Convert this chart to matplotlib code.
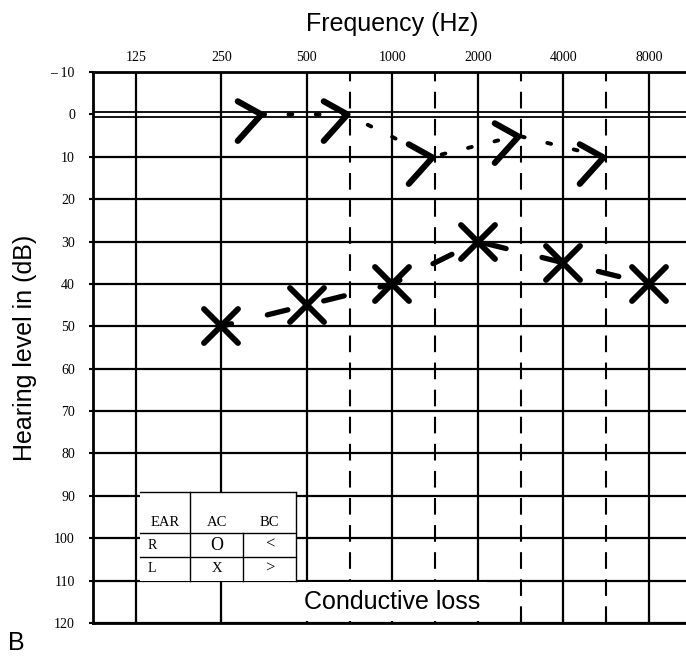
import numpy as np
import matplotlib.pyplot as plt
from matplotlib.markers import MarkerStyle
from matplotlib.path import Path
from matplotlib.patches import Rectangle
from matplotlib.transforms import blended_transform_factory, offset_copy
from matplotlib.ticker import NullFormatter

# audiogram values (left ear)
octave_freqs = [125, 250, 500, 1000, 2000, 4000, 8000]
db_ticks = list(range(-10, 121, 10))

ac_freqs = [250, 500, 1000, 2000, 4000, 8000]
ac_left = [50, 45, 40, 30, 35, 40]
bc_freqs = [250, 500, 1000, 2000, 4000]
bc_left = [0, 0, 10, 5, 10]

legend_rows = [['R', 'O', '<'], ['L', 'X', '>']]

serif = 'Liberation Serif'
sans = 'Liberation Sans'

fig = plt.figure(figsize=(6.86, 6.6), dpi=100)
fig.patch.set_facecolor('white')
ax = fig.add_axes([93/686, 37/660, 598.5/686, 551/660])

ax.set_xscale('log', base=2)
ax.set_xlim(125/np.sqrt(2), 8000*np.sqrt(2))
ax.set_ylim(120, -10)

# dashed inter-octave lines (750, 1500, 3000, 6000) sit halfway between octaves
mid_pos = [np.sqrt(a * b) for a, b in zip(octave_freqs[2:-1], octave_freqs[3:])]

# grid
for f in octave_freqs:
    ax.axvline(f, color='black', lw=1.6, zorder=1)
for f in mid_pos:
    ax.axvline(f, color='black', lw=1.5, ls=(0, (8, 5)), zorder=1)
for d in db_ticks:
    if d == 0:
        ax.axhline(-0.6, color='black', lw=1.3, zorder=1)
        ax.axhline(0.6, color='black', lw=1.3, zorder=1)
    else:
        ax.axhline(d, color='black', lw=1.6, zorder=1)

for s in ax.spines.values():
    s.set_linewidth(2)

# ticks
ax.set_xticks(octave_freqs, labels=[str(f) for f in octave_freqs])
ax.set_xticks(mid_pos, minor=True)
ax.xaxis.set_minor_formatter(NullFormatter())
ax.set_yticks(db_ticks, labels=[str(d).replace('-', '\u2013 ') for d in db_ticks])
ax.tick_params(axis='x', which='both', top=False, bottom=True, labeltop=True,
               labelbottom=False, direction='in', length=5, width=1.5, pad=6)
ax.tick_params(axis='y', length=3, width=1.5, pad=10)
for lab in ax.get_xticklabels() + ax.get_yticklabels():
    lab.set_fontfamily(serif)
    lab.set_fontsize(10)

ax.xaxis.set_label_position('top')
ax.set_xlabel('Frequency (Hz)', fontfamily=sans, fontsize=18, labelpad=14)
ax.set_ylabel('Hearing level in (dB)', fontfamily=sans, fontsize=18, labelpad=10)

# air conduction, left ear
ax.plot(ac_freqs, ac_left, color='black', lw=3.8, ls=(2, (4, 7)),
        dash_capstyle='round', zorder=5)
xm = MarkerStyle('x', capstyle='round')
ax.plot(ac_freqs, ac_left, ls='none', marker=xm, ms=25, mew=4.2,
        color='black', zorder=6)

# bone conduction, left ear (symbol drawn right of the frequency line)
shift = offset_copy(ax.transData, fig=fig, x=40, y=0, units='dots')
arrow = Path([(-0.9, 0.5), (0, 0), (-0.9, -1.0)],
             [Path.MOVETO, Path.LINETO, Path.LINETO])
gm = MarkerStyle(arrow, capstyle='round', joinstyle='round')
ax.plot(bc_freqs, bc_left, color='black', lw=2.8, ls=(0, (1, 6)),
        dash_capstyle='round', transform=shift, zorder=5)
ax.plot(bc_freqs, bc_left, ls='none', marker=gm, ms=38, mew=4.4,
        mfc='none', mec='black', transform=shift, zorder=6)

# symbol key
blend = blended_transform_factory(ax.transAxes, ax.transData)
x0, x1, x2, x3 = 0.0785, 0.162, 0.251, 0.339
y0, y1, y2, y3 = 89.2, 98.8, 104.4, 110
ax.add_patch(Rectangle((x0, y0), x3 - x0, y3 - y0, transform=blend,
                       facecolor='white', edgecolor='none', zorder=3))
kw = dict(color='black', lw=1.0, transform=blend, zorder=4)
ax.plot([x0, x3], [y0, y0], **kw)
ax.plot([x0, x3], [y1, y1], **kw)
ax.plot([x0, x3], [y2, y2], **kw)
ax.plot([x1, x1], [y0, y3], **kw)
ax.plot([x2, x2], [y1, y3], **kw)
ax.plot([x3, x3], [y0, y3], **kw)
tkw = dict(transform=blend, fontfamily=serif, va='center', zorder=4)
ax.text((x0 + x1) / 2, 96.4, 'EAR', ha='center', fontsize=10.5, **tkw)
ax.text((x1 + x2) / 2, 96.4, 'AC', ha='center', fontsize=10.5, **tkw)
ax.text((x2 + x3) / 2, 96.4, 'BC', ha='center', fontsize=10.5, **tkw)
for row, yy in zip(legend_rows, [(y1 + y2) / 2, (y2 + y3) / 2]):
    ax.text(x0 + 0.012, yy, row[0], ha='left', fontsize=10, **tkw)
    ax.text((x1 + x2) / 2, yy, row[1], ha='center',
            fontsize=13 if row[1] == 'O' else 10.5, **tkw)
    ax.text((x2 + x3) / 2, yy, row[2], ha='center', fontsize=12, **tkw)

# caption in the bottom row
ax.add_patch(Rectangle((465, 110.4), 2150 - 465, 9.2, facecolor='white',
                       edgecolor='none', zorder=2))
ax.text(1000, 115, 'Conductive loss', ha='center', va='center',
        fontfamily=sans, fontsize=18, zorder=3)

fig.text(0.012, 0.008, 'B', fontfamily=sans, fontsize=18, ha='left', va='bottom')

fig.savefig('out.png', dpi=100)
